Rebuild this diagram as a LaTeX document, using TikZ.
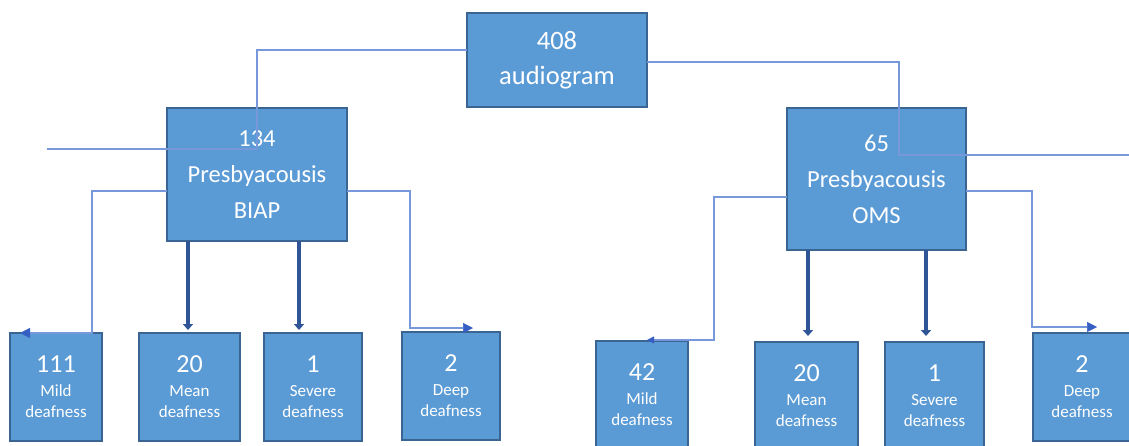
\documentclass[tikz,border=0pt]{standalone}
\usepackage{fontspec}
\setmainfont{Carlito}
\usetikzlibrary{arrows.meta,calc}
\definecolor{boxfill}{RGB}{91,155,213}
\definecolor{boxline}{RGB}{58,100,145}
\definecolor{linkcol}{RGB}{120,152,220}
\definecolor{tipcol}{RGB}{55,95,195}
\definecolor{thickcol}{RGB}{47,85,151}
\tikzset{
  box/.style={draw=boxline, line width=1.4pt, fill=boxfill, text=white,
    inner sep=0pt, outer sep=0pt, align=center, anchor=center},
  bigbox/.style={box, font=\fontsize{24.5}{36}\selectfont},
  smallbox/.style={box, font=\fontsize{17}{21}\selectfont},
  link/.style={draw=linkcol, line width=1.6pt},
  linkarrow/.style={link, -{Triangle[length=10pt,width=10pt,fill=tipcol,color=tipcol,line width=0.5pt]}},
  linkarrowsmall/.style={link, -{Triangle[length=7pt,width=7pt,fill=tipcol,color=tipcol,line width=0.5pt]}},
  thickarrow/.style={draw=thickcol, line width=3.6pt, -{Triangle[length=6pt,width=10pt,fill=thickcol,color=thickcol]}}
}
\newcommand{\lbl}[3]{{\fontsize{26}{26}\selectfont #1}\\[3pt]#2\\#3}
\begin{document}
\begin{tikzpicture}[x=1pt,y=-1pt]
\useasboundingbox (0,0) rectangle (1129,445);
\clip (0,0) rectangle (1129,445);

% top level
\node[bigbox, font=\fontsize{26.5}{35}\selectfont, minimum width=180pt, minimum height=94pt] (top) at (557,60) {408\\audiogram};

% second level
\node[bigbox, minimum width=180pt, minimum height=133pt] (biap) at (257,174.5) {134\\Presbyacousis\\BIAP};
\node[bigbox, minimum width=179pt, minimum height=142pt] (oms) at (876.5,179) {65\\Presbyacousis\\OMS};

% leaves left
\node[smallbox, minimum width=92pt, minimum height=108pt] (mildL) at (56,387) {\lbl{111}{Mild}{deafness}};
\node[smallbox, minimum width=101pt, minimum height=108pt] (meanL) at (189.5,387) {\lbl{20}{Mean}{deafness}};
\node[smallbox, minimum width=98pt, minimum height=108pt] (sevL) at (313,387) {\lbl{1}{Severe}{deafness}};
\node[smallbox, minimum width=98pt, minimum height=108pt] (deepL) at (451,386) {\lbl{2}{Deep}{deafness}};

% leaves right
\node[smallbox, minimum width=92pt, minimum height=108pt] (mildR) at (642,395) {\lbl{42}{Mild}{deafness}};
\node[smallbox, minimum width=103pt, minimum height=108pt] (meanR) at (806.5,396) {\lbl{20}{Mean}{deafness}};
\node[smallbox, minimum width=99pt, minimum height=108pt] (sevR) at (934.5,396) {\lbl{1}{Severe}{deafness}};
\node[smallbox, minimum width=98pt, minimum height=108pt] (deepR) at (1082,387) {\lbl{2}{Deep}{deafness}};

% free ends
\coordinate (lfree) at (47,149);
\coordinate (rfree) at (1129,155);

% connectors from top
\draw[link] ([yshift=10pt]top.west) -- ++(-210,0) -- ++(0,99) -- (lfree);
\draw[link] ([yshift=-2pt]top.east) -- ++(252,0) -- ++(0,93) -- (rfree);

% left tree
\draw[linkarrow] ([yshift=-16.5pt]biap.west) -- ++(-75,0) -- ++(0,142) -- ([xshift=10pt]mildL.north west);
\draw[linkarrow] ([yshift=-16.5pt]biap.east) -- ++(63,0) -- ++(0,137) -- ([xshift=-27pt,yshift=4pt]deepL.north east);
\coordinate (b1) at ([xshift=21pt]biap.south west);
\coordinate (b2) at ([xshift=132pt]biap.south west);
\draw[thickarrow] (b1) -- ($(b1 |- meanL.north)+(0,-3)$);
\draw[thickarrow] (b2) -- ($(b2 |- sevL.north)+(0,-3)$);

% right tree
\draw[linkarrowsmall] ([yshift=-18pt]oms.west) -- ++(-73,0) -- ++(0,143) -- ([xshift=51pt,yshift=1pt]mildR.north west);
\draw[linkarrow] ([yshift=-12pt]oms.east) -- ++(66,0) -- ++(0,136) -- ([xshift=64pt,yshift=6pt]deepR.north west);
\coordinate (o1) at ([xshift=21pt]oms.south west);
\coordinate (o2) at ([xshift=139pt]oms.south west);
\draw[thickarrow] (o1) -- ($(o1 |- meanR.north)+(0,-6)$);
\draw[thickarrow] (o2) -- ($(o2 |- sevR.north)+(0,-6)$);
\end{tikzpicture}
\end{document}
